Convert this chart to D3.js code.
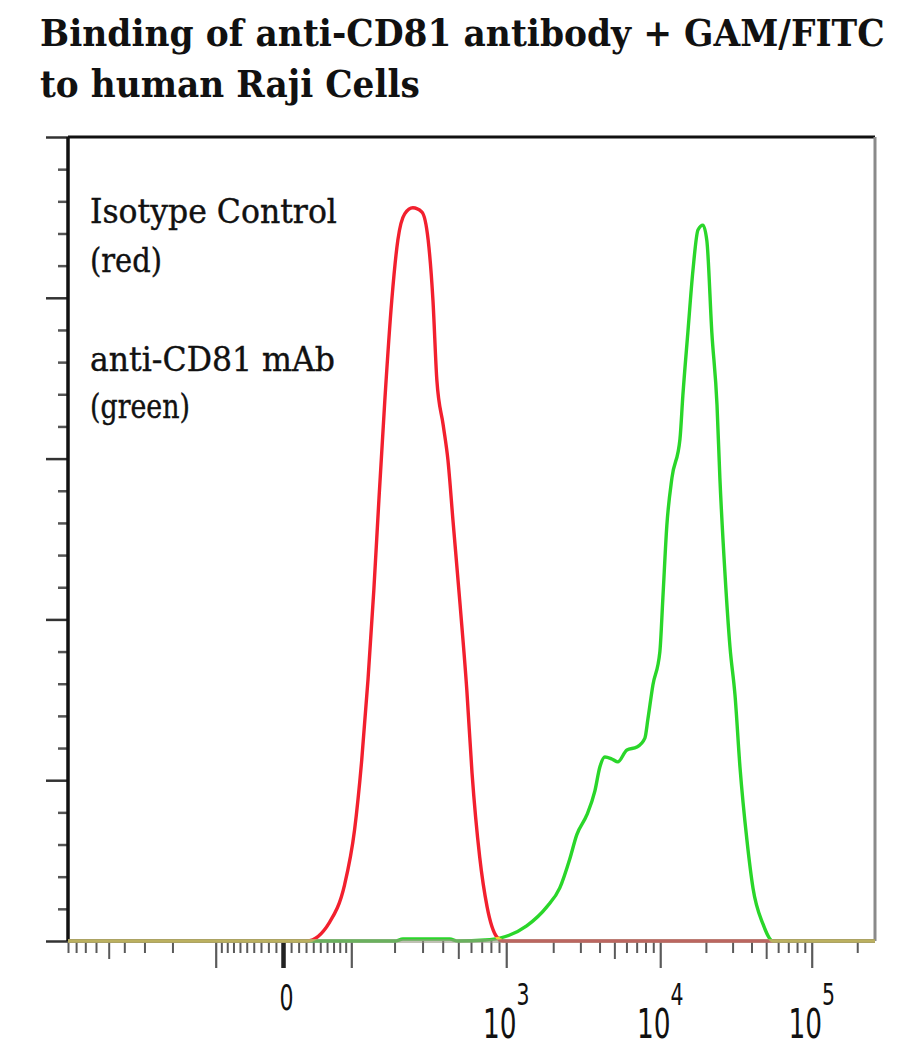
<!DOCTYPE html>
<html>
<head>
<meta charset="utf-8">
<script src="https://cdn.jsdelivr.net/npm/d3@7"></script>
<style>
  body { margin: 0; background: #fff; }
  svg { display: block; }
</style>
</head>
<body>
<div id="chart"></div>
<script>
// Isotype control (red): fluorescence value / cell count
const redX = [-900, 31, 64, 88, 106, 120, 133, 146, 158, 173, 192, 210, 232, 261, 297, 325, 348, 368,
              403, 431, 463, 513, 565, 609, 680, 757, 873, 955, 262144];
const redY = [0, 0, 5.9, 17.4, 34.5, 56.3, 81.2, 109.1, 137.1, 168.2, 199.3, 218, 226.1, 228, 226.7, 218, 199.3, 174.4,
              160.4, 149.6, 130.9, 104.5, 78, 52.2, 26.1, 10.6, 1.2, 0, 0];

// anti-CD81 mAb (green)
const greenX = [-900, 201, 226, 442, 498, 735, 913, 1350, 1818, 2206, 2560, 2841, 3305, 3727, 4019, 4333, 4810, 5268,
                6042, 7026, 7928, 8299, 8952, 9944, 10411, 11051, 11945, 13491, 14089, 15199, 16431, 17724, 19119,
                20294, 21891, 23670, 24726, 26735, 28841, 31113, 33564, 37308, 40899, 47606, 55411, 262144];
const greenY = [0, 0, 0.6, 0.6, 0, 0.3, 0.9, 4.7, 10.6, 16.5, 25.5, 33, 39.2, 46.6, 54.1, 57.2, 56.6, 55.7,
                59.4, 60.3, 63.1, 69, 79.6, 89.9, 106.7, 129.1, 144, 156.1, 169.5, 189.1, 208.6, 221.1, 222.6,
                217.7, 189.1, 166.7, 144, 114.1, 91.4, 76.5, 54.1, 31.4, 16.5, 5.3, 0, 0];

// axis ticks
const X_MIN = -900, X_MAX = 262144;
const xMajorTicks = [-100, 0, 100, 1e3, 1e4, 1e5];
const xMidTicks = [-500, 500, 5e3, 5e4];
const xMinorTicks = [-900, -800, -700, -600, -400, -300, -200,
                     -90, -80, -70, -60, -50, -40, -30, -20, -10,
                     10, 20, 30, 40, 50, 60, 70, 80, 90,
                     200, 300, 400, 600, 700, 800, 900,
                     2e3, 3e3, 4e3, 6e3, 7e3, 8e3, 9e3,
                     2e4, 3e4, 4e4, 6e4, 7e4, 8e4, 9e4, 2e5];
const labelValues = [0, 1e3, 1e4, 1e5];
const labelExponents = ['', '3', '4', '5'];
const Y_MAX = 250;

const title = ['Binding of anti-CD81 antibody + GAM/FITC', 'to human Raji Cells'];
const legendLines = ['Isotype Control', '(red)', 'anti-CD81 mAb', '(green)'];

const COLORS = { red: '#f2202e', green: '#2ad62a', frame: '#111', right: '#8a8a8a', tick: '#5a5a5a' };

// biexponential display transform (display decades <-> value)
const BIEX_A = 32, BIEX_P = 1.7;
const biexInv = function(u) {
    const a = Math.abs(u), p2 = BIEX_P * BIEX_P;
    return Math.sign(u) * BIEX_A * (Math.pow(10, a) - p2 * Math.pow(10, -a / BIEX_P) + p2 - 1);
};
const biex = function(v) {
    let lo = -8, hi = 8;
    for (let i = 0; i < 60; i++) {
        const mid = (lo + hi) / 2;
        if (biexInv(mid) < v) lo = mid; else hi = mid;
    }
    return (lo + hi) / 2;
};

// squeeze a text horizontally to a target width (keeps it real text)
const fitWidth = function(sel, x0, y0, target) {
    sel.each(function(d, i) {
        const el = d3.select(this);
        const w = this.getComputedTextLength();
        const tw = typeof target === 'function' ? target(d, i) : target;
        const yy = typeof y0 === 'function' ? y0(d, i) : y0;
        el.attr('x', 0).attr('y', 0)
          .attr('transform', `translate(${x0},${yy}) scale(${tw / w},1)`);
    });
};

const W = 921, H = 1054;
const margin = { top: 137, right: 46, bottom: 113, left: 68 };
const width = W - margin.left - margin.right;
const height = H - margin.top - margin.bottom;

const svg = d3.select('#chart').append('svg')
    .attr('width', W)
    .attr('height', H);

// title
const titleText = svg.append('g').selectAll('text')
    .data(title)
    .enter()
    .append('text')
    .attr('font-family', '"DejaVu Serif", serif')
    .attr('font-weight', 'bold')
    .attr('font-size', 37)
    .attr('fill', '#111')
    .text(d => d);
fitWidth(titleText, 40, (d, i) => 46 + i * 51, (d, i) => i === 0 ? 845 : 380);

const g = svg.append('g')
    .attr('transform', `translate(${margin.left},${margin.top})`);

const xd = d3.scaleLinear()
    .domain([biex(X_MIN), biex(X_MAX)])
    .range([0, width]);
const x = v => xd(biex(v));

const y = d3.scaleLinear()
    .domain([0, Y_MAX])
    .range([height, 0]);

// y ticks (no labels)
const yAxisMajor = d3.axisLeft(y).tickValues(d3.range(0, Y_MAX + 1, 50)).tickSize(22).tickFormat('');
const yAxisMinor = d3.axisLeft(y).tickValues(d3.range(0, Y_MAX + 1, 10).filter(d => d % 50 !== 0)).tickSize(10).tickFormat('');
[[yAxisMajor, '#333'], [yAxisMinor, '#555']].forEach(([ax, c]) => {
    const a = g.append('g').call(ax);
    a.select('.domain').remove();
    a.selectAll('line').attr('stroke', c).attr('stroke-width', 2.5);
});

// x ticks (labels drawn separately)
const xAxes = [
    { values: xMinorTicks, size: 12, w: 2 },
    { values: xMidTicks, size: 18, w: 2 },
    { values: xMajorTicks, size: 27, w: 2.2 }
];
xAxes.forEach(spec => {
    const ax = d3.axisBottom(xd).tickValues(spec.values.map(biex)).tickSize(spec.size).tickFormat('');
    const a = g.append('g')
        .attr('transform', `translate(0,${height})`)
        .call(ax);
    a.select('.domain').remove();
    a.selectAll('line').attr('stroke', COLORS.tick).attr('stroke-width', spec.w);
});
// zero tick drawn heavier
g.append('line')
    .attr('x1', x(0)).attr('x2', x(0))
    .attr('y1', height).attr('y2', height + 27)
    .attr('stroke', '#222').attr('stroke-width', 4.5);

// frame
g.append('line').attr('x1', 0).attr('x2', width).attr('y1', 0).attr('y2', 0)
    .attr('stroke', COLORS.frame).attr('stroke-width', 3);
g.append('line').attr('x1', 0).attr('x2', 0).attr('y1', 0).attr('y2', height)
    .attr('stroke', COLORS.frame).attr('stroke-width', 3.5);
g.append('line').attr('x1', width).attr('x2', width).attr('y1', 0).attr('y2', height)
    .attr('stroke', COLORS.right).attr('stroke-width', 3);

// histograms
const line = d3.line()
    .x(d => x(d[0]))
    .y(d => y(d[1]))
    .curve(d3.curveMonotoneX);

const curves = g.append('g').style('isolation', 'isolate');
curves.append('path')
    .datum(d3.zip(redX, redY))
    .attr('fill', 'none')
    .attr('stroke', COLORS.red)
    .attr('stroke-width', 3.4)
    .attr('stroke-linejoin', 'round')
    .attr('d', line);
curves.append('path')
    .datum(d3.zip(greenX, greenY))
    .attr('fill', 'none')
    .attr('stroke', COLORS.green)
    .attr('stroke-width', 3.4)
    .attr('stroke-linejoin', 'round')
    .style('mix-blend-mode', 'lighten')
    .attr('d', line);

// baseline (x axis line) over the curves
g.append('line')
    .attr('x1', 0).attr('x2', width)
    .attr('y1', y(0)).attr('y2', y(0))
    .attr('stroke', 'rgb(150,150,130)')
    .attr('stroke-opacity', 0.6)
    .attr('stroke-width', 4);

// x labels: 0, 10^3, 10^4, 10^5 (narrow digits)
const labels = g.append('g')
    .attr('font-family', '"DejaVu Sans", "Liberation Sans", sans-serif')
    .attr('fill', '#111')
    .attr('text-anchor', 'middle');
labelValues.forEach((v, i) => {
    const t = labels.append('text');
    if (labelExponents[i] === '') {
        t.attr('font-size', 35)
         .attr('transform', `translate(${x(v) + 3},${height + 69}) scale(0.63,1)`)
         .text('0');
    } else {
        t.attr('font-size', 40)
         .attr('transform', `translate(${x(v)},${height + 97}) scale(0.66,1)`);
        t.append('tspan').text('10');
        t.append('tspan').attr('dy', -33).attr('font-size', 31).text(labelExponents[i]);
    }
});

// legend text
const legendY = [223, 272, 371, 418];
const legendW = [247, 72, 245, 100];
const legendText = svg.append('g').selectAll('text')
    .data(legendLines)
    .enter()
    .append('text')
    .attr('font-family', '"DejaVu Serif", serif')
    .attr('font-size', 33)
    .attr('fill', '#111')
    .attr('stroke', '#111')
    .attr('stroke-width', 0.4)
    .text(d => d);
fitWidth(legendText, 90, (d, i) => legendY[i], (d, i) => legendW[i]);
</script>
</body>
</html>
